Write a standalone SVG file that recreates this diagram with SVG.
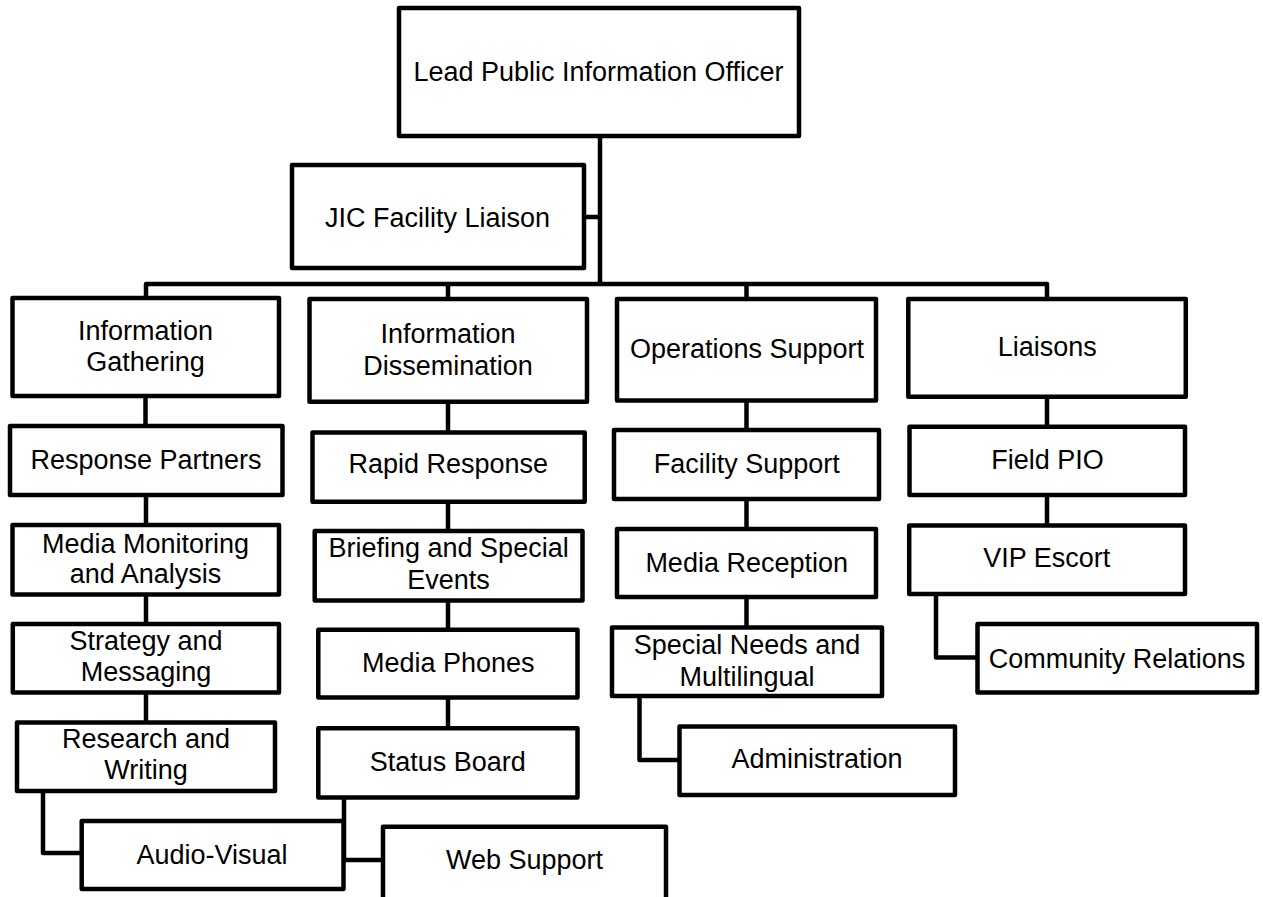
<svg xmlns="http://www.w3.org/2000/svg" width="1263" height="897" viewBox="0 0 1263 897">
<style>
.box{fill:#fff;stroke:#000;stroke-width:4.5;stroke-linejoin:round}
.c{fill:none;stroke:#000;stroke-width:4.5;stroke-linejoin:round}
text{font-family:"Liberation Sans",Arial,sans-serif;font-size:27px;fill:#000;text-anchor:middle}
</style>
<rect width="1263" height="897" fill="#fff"/>
<g id="connectors">
<path class="c" d="M600 138V284"/>
<path class="c" d="M586 217H600"/>
<path class="c" d="M146 298V284H1047V298"/>
<path class="c" d="M448 284V299"/>
<path class="c" d="M746.5 284V299"/>
<path class="c" d="M145.5 396V426"/>
<path class="c" d="M146 495V525"/>
<path class="c" d="M146 594.5V624"/>
<path class="c" d="M146 692.5V722.5"/>
<path class="c" d="M43 791V853H81.7"/>
<path class="c" d="M448 401.7V432.5"/>
<path class="c" d="M448 501.7V531"/>
<path class="c" d="M448 600.5V629.8"/>
<path class="c" d="M448 697.5V728.3"/>
<path class="c" d="M344 797.5V860H383"/>
<path class="c" d="M746.5 400.5V430"/>
<path class="c" d="M746.5 499V529"/>
<path class="c" d="M746.5 597V627.5"/>
<path class="c" d="M639.5 696V760H679.5"/>
<path class="c" d="M1047 396.7V426.7"/>
<path class="c" d="M1047 495V525.5"/>
<path class="c" d="M936 594V657.5H977.5"/>
</g>
<g id="lead"><rect class="box" x="399" y="8" width="400" height="128"/><text x="598.5" y="80.7">Lead Public Information Officer</text></g>
<g id="jic"><rect class="box" x="292" y="165" width="292" height="103"/><text x="437.5" y="226.7">JIC Facility Liaison</text></g>
<g id="info-gathering"><rect class="box" x="12.5" y="298" width="266.5" height="98"/><text x="145.5" y="340">Information</text><text x="145.5" y="371">Gathering</text></g>
<g id="response-partners"><rect class="box" x="10" y="426" width="272.5" height="69"/><text x="146" y="468.7">Response Partners</text></g>
<g id="media-monitoring"><rect class="box" x="12.5" y="525" width="266.5" height="69.5"/><text x="145.5" y="552.7">Media Monitoring</text><text x="145.5" y="583.3">and Analysis</text></g>
<g id="strategy"><rect class="box" x="12.8" y="624" width="266.2" height="68.5"/><text x="146" y="650">Strategy and</text><text x="146" y="680.7">Messaging</text></g>
<g id="research"><rect class="box" x="17" y="722.5" width="258" height="68.5"/><text x="146" y="748.3">Research and</text><text x="146" y="779.3">Writing</text></g>
<g id="audio-visual"><rect class="box" x="81.7" y="821" width="261.8" height="68"/><text x="212" y="863.5">Audio-Visual</text></g>
<g id="web-support"><rect class="box" x="383" y="826.7" width="283" height="75"/><text x="524.5" y="869">Web Support</text></g>
<g id="info-dissemination"><rect class="box" x="309.5" y="299" width="277.5" height="102.7"/><text x="448" y="342.7">Information</text><text x="448" y="375">Dissemination</text></g>
<g id="rapid-response"><rect class="box" x="312.5" y="432.5" width="272.2" height="69.2"/><text x="448.3" y="473.3">Rapid Response</text></g>
<g id="briefing"><rect class="box" x="314.7" y="531" width="267.8" height="69.5"/><text x="448.6" y="557.3">Briefing and Special</text><text x="448.6" y="589">Events</text></g>
<g id="media-phones"><rect class="box" x="318.3" y="629.8" width="259.2" height="67.7"/><text x="448.3" y="671.7">Media Phones</text></g>
<g id="status-board"><rect class="box" x="318.3" y="728.3" width="259.2" height="69.2"/><text x="447.7" y="770.7">Status Board</text></g>
<g id="operations-support"><rect class="box" x="617" y="299" width="259" height="101.5"/><text x="747" y="358.3">Operations Support</text></g>
<g id="facility-support"><rect class="box" x="614" y="430" width="265" height="69"/><text x="746.7" y="472.7">Facility Support</text></g>
<g id="media-reception"><rect class="box" x="617" y="529" width="259" height="68"/><text x="746.7" y="571.7">Media Reception</text></g>
<g id="special-needs"><rect class="box" x="612" y="627.5" width="270" height="68.5"/><text x="747" y="654">Special Needs and</text><text x="747" y="686">Multilingual</text></g>
<g id="administration"><rect class="box" x="679.5" y="726.5" width="275.5" height="68.5"/><text x="817" y="768.3">Administration</text></g>
<g id="liaisons"><rect class="box" x="908.3" y="299" width="277.5" height="97.7"/><text x="1047.2" y="356">Liaisons</text></g>
<g id="field-pio"><rect class="box" x="909.5" y="426.7" width="275.5" height="68.3"/><text x="1047.5" y="469.3">Field PIO</text></g>
<g id="vip-escort"><rect class="box" x="909.2" y="525.5" width="275.8" height="68.5"/><text x="1046.8" y="567.3">VIP Escort</text></g>
<g id="community-relations"><rect class="box" x="977.5" y="624" width="279.5" height="68.5"/><text x="1117" y="668.3">Community Relations</text></g>
</svg>
